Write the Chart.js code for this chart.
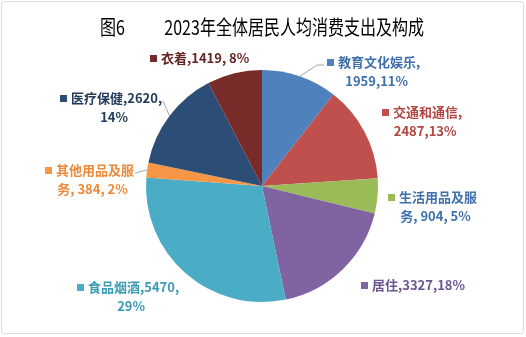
<!DOCTYPE html>
<html lang="zh">
<head>
<meta charset="UTF-8">
<title>2023年全体居民人均消费支出及构成</title>
<script src="https://cdn.jsdelivr.net/npm/chart.js"></script>
<style>
  html, body { margin: 0; padding: 0; background: #fff; }
  #wrap { position: relative; width: 526px; height: 337px; }
  canvas { display: block; }
  #frame { position: absolute; left: 1px; top: 1px; right: 2px; bottom: 3px; border: 1px solid #dcdcdc; border-radius: 3px; pointer-events: none; }
</style>
</head>
<body>
<div id="wrap">
  <canvas id="chart" width="526" height="337"></canvas>
  <div id="frame"></div>
</div>
<script>
  const categories = ['教育文化娱乐', '交通和通信', '生活用品及服务', '居住', '食品烟酒', '其他用品及服务', '医疗保健', '衣着'];
  const values = [1959, 2487, 904, 3327, 5470, 384, 2620, 1419];
  const shares = ['11%', '13%', '5%', '18%', '29%', '2%', '14%', '8%'];

  // label text as it wraps in the original
  const labelLines = [
    ['教育文化娱乐,', '1959,11%'],
    ['交通和通信,', '2487,13%'],
    ['生活用品及服', '务, 904, 5%'],
    ['居住,3327,18%'],
    ['食品烟酒,5470,', '29%'],
    ['其他用品及服', '务, 384, 2%'],
    ['医疗保健,2620,', '14%'],
    ['衣着,1419, 8%']
  ];

  const sliceColors = ['#4f81bd', '#c0504d', '#9bbb59', '#8064a2', '#4bacc6', '#f79646', '#2c4d75', '#772c2a'];
  const textColors = ['#3f70ab', '#b04542', '#3f70ab', '#6c5590', '#3b9ab4', '#ec8a3c', '#213b5b', '#632523'];

  // where each label box sits: marker x, first line y
  const labelAt = [[327, 62], [382, 112], [388, 197], [361, 285], [77, 287], [45, 170], [60, 98], [150, 58]];
  const hasLeader = [true, false, false, false, false, true, true, false];

  const labelFont = 'bold 13px "Noto Sans CJK SC", sans-serif';

  const pieLabels = {
    id: 'pieLabels',
    afterDatasetsDraw(chart) {
      const ctx = chart.ctx;
      const meta = chart.getDatasetMeta(0);
      ctx.save();
      ctx.font = labelFont;
      ctx.textBaseline = 'middle';
      meta.data.forEach((arc, i) => {
        const [sx, sy] = labelAt[i];
        const lines = labelLines[i];
        const tx = sx + 11;
        const w1 = ctx.measureText(lines[0]).width;
        const right = tx + w1;

        if (hasLeader[i]) {
          const mid = (arc.startAngle + arc.endAngle) / 2;
          const ex = arc.x + Math.cos(mid) * arc.outerRadius;
          const ey = arc.y + Math.sin(mid) * arc.outerRadius;
          let lx, ly;
          if (ex > sx) { lx = right + 1; ly = sy + 3; }
          else { lx = sx - 10; ly = sy + 3; }
          ctx.strokeStyle = '#a6a6a6';
          ctx.lineWidth = 1;
          ctx.beginPath();
          ctx.moveTo(ex, ey);
          ctx.lineTo(lx, ly);
          if (ex <= sx) ctx.lineTo(sx - 3, ly);
          ctx.stroke();
        }

        ctx.fillStyle = sliceColors[i];
        ctx.fillRect(sx, sy - 3, 7, 7);
        ctx.fillStyle = textColors[i];
        ctx.textAlign = 'left';
        ctx.fillText(lines[0], tx, sy);
        if (lines[1]) {
          ctx.textAlign = 'center';
          ctx.fillText(lines[1], (sx + right) / 2 + 3, sy + 19);
        }
      });
      ctx.restore();
    }
  };

  new Chart(document.getElementById('chart'), {
    type: 'pie',
    data: {
      labels: categories.map((c, i) => c + ',' + values[i] + ',' + shares[i]),
      datasets: [{
        data: values,
        backgroundColor: sliceColors,
        borderWidth: 0
      }]
    },
    options: {
      responsive: false,
      animation: false,
      devicePixelRatio: 1,
      layout: { padding: { left: 100, right: 102, top: 0, bottom: 35 } },
      plugins: {
        legend: { display: false },
        tooltip: { enabled: false },
        title: {
          display: true,
          text: '图6           2023年全体居民人均消费支出及构成',
          color: '#000',
          font: { family: '"Noto Sans CJK SC", sans-serif', size: 20, weight: 'normal' },
          padding: { top: 15, bottom: 31 }
        }
      }
    },
    plugins: [pieLabels]
  });
</script>
</body>
</html>
